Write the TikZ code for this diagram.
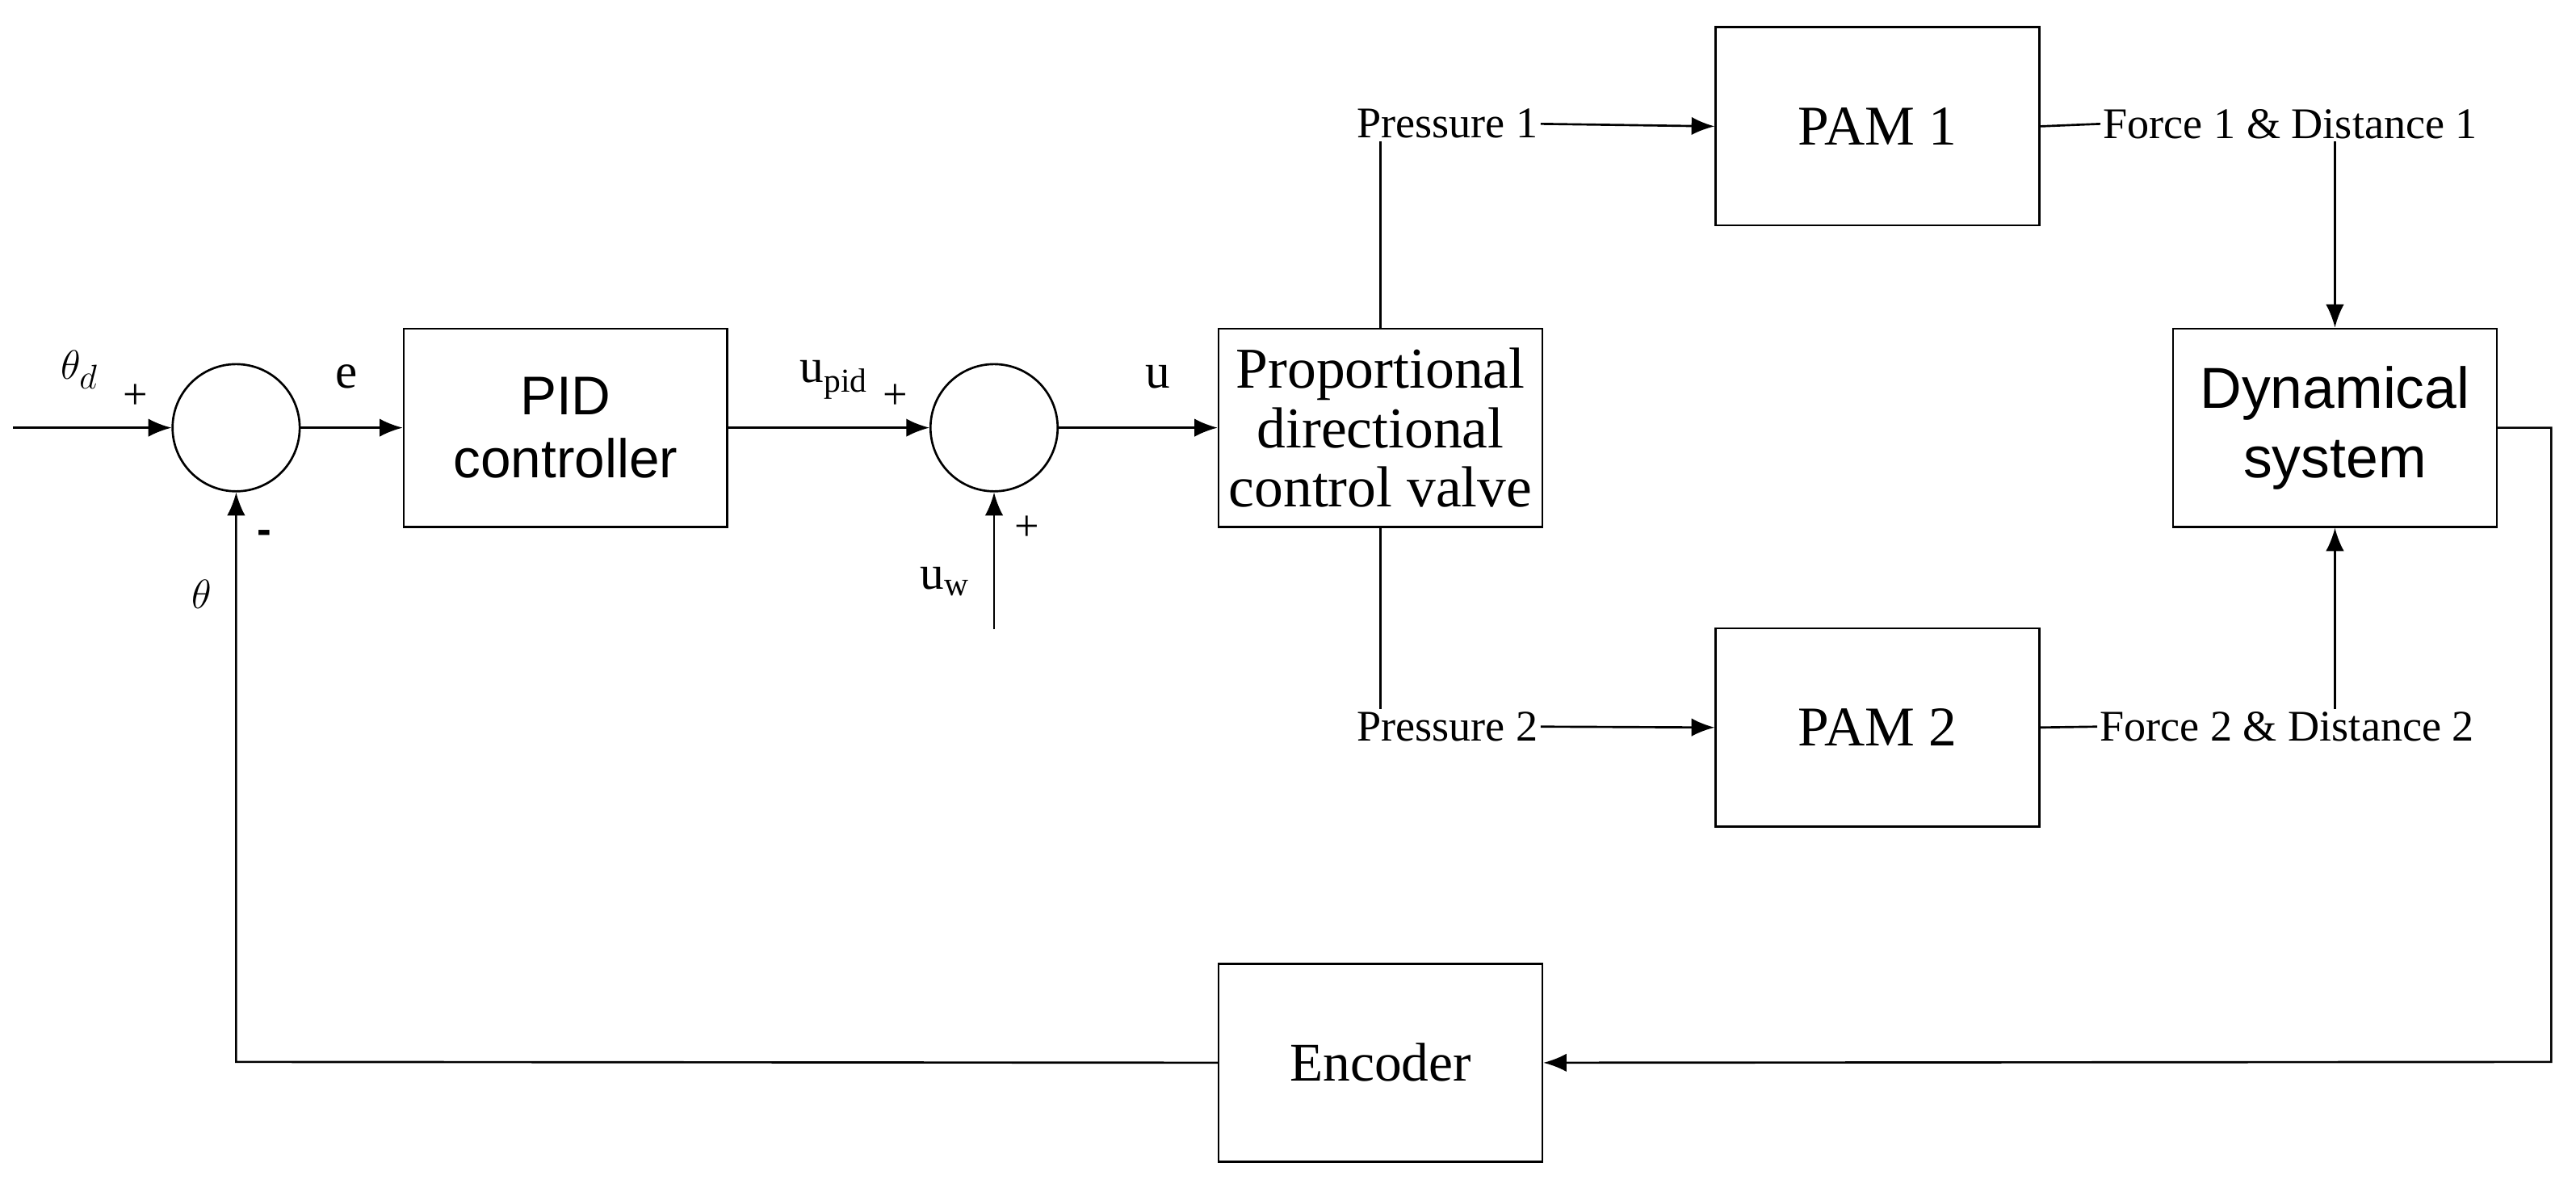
\documentclass[tikz,border=0pt]{standalone}
\usepackage{fontspec}
\setmainfont{Liberation Serif}
\newfontfamily\sansf{Liberation Sans}
\usetikzlibrary{arrows.meta}
\begin{document}
\begin{tikzpicture}[x=1pt,y=-1pt,line width=1.3pt,
  blk/.style={draw,minimum width=196pt,minimum height=120pt,align=center,inner sep=0pt},
  sm/.style={draw,circle,minimum size=77pt,inner sep=0pt},
  lab/.style={font=\fontsize{26.5}{28}\selectfont,inner sep=1pt},
  arr/.style={-{Latex[length=14pt,width=11pt]}}]
\useasboundingbox (0,0) rectangle (1560,719);
\node[sm] (s1) at (143,259) {};
\node[sm] (s2) at (602,259) {};
\node[blk,font=\sansf\fontsize{33}{38}\selectfont] (pid) at (342.5,259) {PID\\controller};
\node[blk,font=\fontsize{35}{36}\selectfont] (valve) at (836,259) {Proportional\\directional\\control valve};
\node[blk] (pam1) at (1137,76.5) {};
\node at (pam1) {\fontsize{34}{38}\selectfont PAM 1};
\node[blk] (pam2) at (1137,440.5) {};
\node at (pam2) {\fontsize{34}{38}\selectfont PAM 2};
\node[blk,font=\sansf\fontsize{35}{42}\selectfont] (dyn) at (1414,259) {Dynamical\\system};
\node[blk,font=\fontsize{33}{36}\selectfont] (enc) at (836,643.5) {Encoder};
\node[lab,anchor=east] (p1) at (933,75) {Pressure 1};
\node[lab,anchor=east] (p2) at (933,440) {Pressure 2};
\node[lab,anchor=west] (f1) at (1272,75) {Force 1 \& Distance 1};
\node[lab,anchor=west] (f2) at (1270,440) {Force 2 \& Distance 2};
\coordinate (in) at (8,259);
\coordinate (uwb) at (602,381);
\coordinate (r1) at (1545,259);
\coordinate (r2) at (1545,643);
\coordinate (l1) at (143,643);
\draw[arr] (in) -- (s1.west);
\draw[arr] (s1.east) -- (pid.west);
\draw[arr] (pid.east) -- (s2.west);
\draw[arr] (s2.east) -- (valve.west);
\draw[arr] (uwb) -- (s2.south);
\draw (valve.north) -- (valve.north|-p1.south);
\draw (valve.south) -- (valve.south|-p2.north);
\draw[arr] (p1.east) -- (pam1.west);
\draw[arr] (p2.east) -- (pam2.west);
\draw (pam1.east) -- (f1.west);
\draw (pam2.east) -- (f2.west);
\draw[arr] (dyn.north|-f1.south) -- (dyn.north);
\draw[arr] (dyn.south|-f2.north) -- (dyn.south);
\draw[arr] (dyn.east) -- (r1) -- (r2) -- (enc.east);
\draw[arr] (enc.west) -- (l1) -- (s1.south);
\node[font=\fontsize{30}{32}\selectfont] at (48,224) {$\theta_d$};
\node[lab] at (82,240) {+};
\node[font=\fontsize{30}{32}\selectfont] at (210,228) {e};
\node[font=\fontsize{29}{32}\selectfont] at (505,230) {u\textsubscript{pid}};
\node[lab] at (542,240) {+};
\node[font=\fontsize{29}{32}\selectfont] at (572,352) {u\textsubscript{w}};
\node[lab] at (622,320) {+};
\node[font=\fontsize{30}{32}\selectfont] at (701,228) {u};
\node[font=\fontsize{30}{32}\selectfont] at (122,360) {$\theta$};
\node[font=\sansf\bfseries\fontsize{26}{28}\selectfont] at (160,325) {-};
\end{tikzpicture}
\end{document}
